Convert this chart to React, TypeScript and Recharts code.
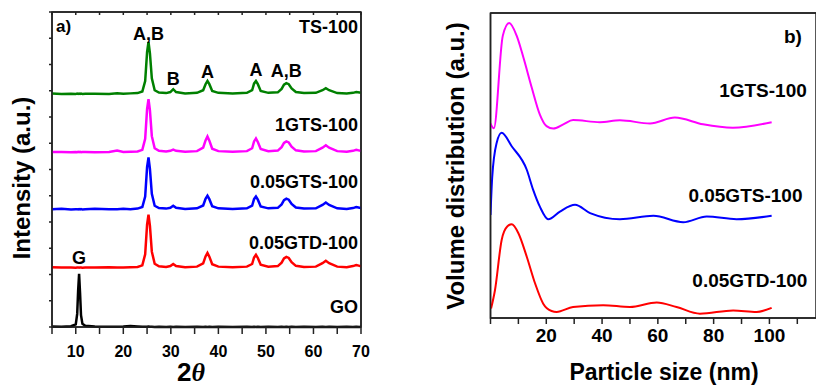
import React from 'react';
import { LineChart, Line, XAxis, YAxis, ReferenceDot, ReferenceArea } from 'recharts';

const FONT = '"Liberation Sans", Arial, sans-serif';

// ---- panel a) XRD patterns ----
const twoTheta = [
  5, 7, 9, 10, 10.3, 10.5, 10.7, 10.9, 11.1, 11.4, 12, 14, 17, 18.7, 20, 21.5, 23, 24,
  24.6, 25, 25.3, 25.6, 26, 26.6, 27.5, 29, 29.9, 30.5, 31.1, 33, 35.5, 36.8, 37.3, 37.7,
  38.1, 38.7, 40, 43, 46, 47.1, 47.5, 47.9, 48.3, 48.9, 50.5, 52.5, 53.3, 53.8, 54.3, 54.8,
  55.4, 56.3, 58, 60.5, 61.9, 62.6, 63.3, 65, 67, 68.3, 69, 69.7, 70,
];

const goXrd = [
  0.02, 0.01, 0.03, 0.1, 0.5, 1.4, 2.03, 1.3, 0.45, 0.12, 0.05, 0.02, 0.01, 0.01, 0.02, 0.04, 0.02, 0.01,
  0.01, 0.01, 0.02, 0.01, 0.01, 0.0, 0.01, 0.0, 0.01, 0.0, 0.01, 0.0, 0.01, 0.0, 0.01, 0.0,
  0.01, 0.0, 0.01, 0.0, 0.01, 0.0, 0.01, 0.0, 0.01, 0.0, 0.01, 0.0, 0.01, 0.0, 0.01, 0.0,
  0.01, 0.0, 0.01, 0.0, 0.01, 0.0, 0.01, 0.0, 0.01, 0.0, 0.01, 0.0, 0.01,
];

const gtd005 = [
  0.03, 0.02, 0.02, 0.01, 0.02, 0.02, 0.01, 0.02, 0.02, 0.01, 0.02, 0.02, 0.03, 0.02, 0.02, 0.03, 0.04, 0.1,
  0.52, 1.65, 2.03, 1.6, 0.62, 0.16, 0.06, 0.04, 0.07, 0.15, 0.07, 0.03, 0.05, 0.17, 0.44, 0.57,
  0.43, 0.14, 0.05, 0.03, 0.05, 0.15, 0.4, 0.5, 0.38, 0.12, 0.05, 0.07, 0.2, 0.36, 0.42, 0.38,
  0.22, 0.08, 0.04, 0.05, 0.18, 0.27, 0.18, 0.05, 0.03, 0.07, 0.11, 0.08, 0.06,
];

const gts005 = [
  0.02, 0.03, 0.01, 0.02, 0.02, 0.01, 0.02, 0.01, 0.02, 0.01, 0.02, 0.03, 0.02, 0.02, 0.03, 0.02, 0.04, 0.1,
  0.5, 1.62, 1.99, 1.55, 0.6, 0.15, 0.06, 0.04, 0.07, 0.15, 0.07, 0.03, 0.05, 0.16, 0.41, 0.53,
  0.4, 0.13, 0.05, 0.03, 0.05, 0.15, 0.4, 0.5, 0.38, 0.12, 0.05, 0.07, 0.2, 0.36, 0.42, 0.38,
  0.22, 0.08, 0.04, 0.05, 0.18, 0.27, 0.18, 0.05, 0.03, 0.06, 0.1, 0.07, 0.06,
];

const gts1 = [
  0.02, 0.02, 0.01, 0.02, 0.01, 0.02, 0.01, 0.02, 0.01, 0.02, 0.02, 0.01, 0.02, 0.07, 0.02, 0.03, 0.04, 0.1,
  0.52, 1.65, 2.03, 1.6, 0.62, 0.16, 0.06, 0.04, 0.06, 0.11, 0.06, 0.03, 0.05, 0.18, 0.46, 0.61,
  0.45, 0.14, 0.05, 0.03, 0.05, 0.16, 0.42, 0.53, 0.4, 0.13, 0.05, 0.07, 0.2, 0.36, 0.42, 0.38,
  0.22, 0.08, 0.04, 0.05, 0.18, 0.27, 0.18, 0.05, 0.03, 0.06, 0.1, 0.07, 0.06,
];

const ts100 = [
  0.03, 0.01, 0.02, 0.01, 0.02, 0.01, 0.02, 0.01, 0.02, 0.01, 0.02, 0.02, 0.01, 0.03, 0.02, 0.03, 0.04, 0.1,
  0.5, 1.6, 1.99, 1.55, 0.6, 0.15, 0.06, 0.04, 0.08, 0.19, 0.08, 0.03, 0.05, 0.15, 0.38, 0.5,
  0.38, 0.12, 0.05, 0.03, 0.05, 0.15, 0.4, 0.5, 0.38, 0.12, 0.05, 0.07, 0.2, 0.36, 0.42, 0.38,
  0.22, 0.08, 0.04, 0.05, 0.15, 0.23, 0.15, 0.04, 0.03, 0.05, 0.08, 0.06, 0.05,
];

// vertical stacking offsets for the patterns
const offGO = 0;
const offGTD = 2.25;
const offGTS005 = 4.47;
const offGTS1 = 6.65;
const offTS = 8.87;

const xrdTicks = [5, 10, 15, 20, 25, 30, 35, 40, 45, 50, 55, 60, 65, 70];
const xrdYTicks = [0, 1, 2, 3, 4, 5, 6, 7, 8, 9, 10, 11, 12];

const peakLabels = [
  { text: 'A,B', x: 25.3, y: 11.16 },
  { text: 'B', x: 30.5, y: 9.48 },
  { text: 'A', x: 37.7, y: 9.74 },
  { text: 'A', x: 47.9, y: 9.82 },
  { text: 'A,B', x: 54.3, y: 9.78 },
  { text: 'G', x: 10.7, y: 2.64 },
];

const sampleLabelsA = [
  { text: 'TS-100', y: 11.46 },
  { text: '1GTS-100', y: 7.72 },
  { text: '0.05GTS-100', y: 5.54 },
  { text: '0.05GTD-100', y: 3.21 },
  { text: 'GO', y: 0.76 },
];

// ---- panel b) particle size distributions ----
const size1GTS = [0, 1.2, 4.4, 6.7, 9.4, 11.8, 14.8, 17.7, 20.1, 22.5, 26.1, 29.6, 39.2, 46.4, 57.2, 66.1, 76.2, 86.9, 100.8];
const vol1GTS = [6.38, 6.22, 9.25, 9.67, 9.25, 8.54, 7.55, 6.67, 6.29, 6.21, 6.35, 6.49, 6.42, 6.48, 6.38, 6.57, 6.35, 6.24, 6.42];

const size005GTS = [0, 0.6, 2.2, 4.0, 7.6, 13.0, 15.3, 17.7, 20.7, 24.9, 30.3, 35.7, 46.4, 58.4, 69.1, 77.5, 88.2, 100.8];
const vol005GTS = [3.38, 4.6, 5.74, 6.07, 5.63, 4.86, 4.2, 3.65, 3.24, 3.49, 3.71, 3.44, 3.24, 3.35, 3.14, 3.33, 3.24, 3.35];

const size005GTD = [0.2, 1.6, 4.0, 6.0, 7.6, 10.0, 13.0, 16.0, 18.9, 21.9, 23.7, 29.6, 40.4, 50.0, 59.6, 66.7, 75.1, 87.0, 95.4, 100.8];
const vol005GTD = [0.31, 0.91, 2.56, 3.0, 3.07, 2.78, 2.01, 1.13, 0.47, 0.23, 0.2, 0.36, 0.42, 0.36, 0.51, 0.36, 0.14, 0.25, 0.2, 0.33];

const sizeTicks = [0, 10, 20, 30, 40, 50, 60, 70, 80, 90, 100, 110];

const sampleLabelsB = [
  { text: 'b)', x: 108.4, y: 9.24 },
  { text: '1GTS-100', x: 97.7, y: 7.46 },
  { text: '0.05GTS-100', x: 91.4, y: 4.04 },
  { text: '0.05GTD-100', x: 93.0, y: 1.24 },
];

const xrdData = twoTheta.map((t, i) => ({
  t,
  go: goXrd[i] + offGO,
  gtd: gtd005[i] + offGTD,
  gts005: gts005[i] + offGTS005,
  gts1: gts1[i] + offGTS1,
  ts: ts100[i] + offTS,
}));

const toRows = (xs: number[], ys: number[]) => xs.map((s, i) => ({ s, v: ys[i] }));

const labelStyle = { fill: '#000', fontWeight: 'bold', fontFamily: FONT };

const blank = () => '';

const FRAME = '#222';

export default function App() {
  const axisProps = { stroke: FRAME, strokeWidth: 1.5, interval: 0 as const };

  return (
    <div style={{ position: 'absolute', left: 0, top: 0, width: 816, height: 386, background: '#fff', overflow: 'hidden' }}>
      <div style={{ position: 'absolute', left: 0, top: 0 }}>
        <LineChart width={380} height={386} data={xrdData} margin={{ top: 12, right: 18, bottom: 29, left: 51 }}>
          <XAxis
            dataKey="t"
            type="number"
            domain={[5, 70]}
            ticks={xrdTicks}
            allowDataOverflow
            height={30}
            tickSize={7}
            tickMargin={12}
            tickFormatter={(v: number) => (v % 10 === 0 ? String(v) : '')}
            tick={{ fill: '#000', fontSize: 16, fontWeight: 'bold', fontFamily: FONT }}
            {...axisProps}
          />
          <XAxis
            xAxisId="top"
            orientation="top"
            dataKey="t"
            type="number"
            domain={[5, 70]}
            ticks={xrdTicks}
            allowDataOverflow
            height={1}
            mirror
            tickSize={3}
            tickFormatter={blank}
            {...axisProps}
          />
          <YAxis type="number" domain={[0, 12]} ticks={xrdYTicks} width={1} tickSize={3} tickFormatter={blank} {...axisProps} />
          <YAxis
            yAxisId="right"
            orientation="right"
            type="number"
            domain={[0, 12]}
            ticks={xrdYTicks}
            width={1}
            tickSize={3}
            tickFormatter={blank}
            {...axisProps}
          />
          <ReferenceArea x1={5} x2={70} y1={0} y2={12} fill="none" fillOpacity={0} stroke={FRAME} strokeWidth={1.5} strokeOpacity={1} ifOverflow="visible" />
          <Line type="linear" dataKey="go" stroke="#000000" strokeWidth={2.5} dot={false} isAnimationActive={false} />
          <Line type="linear" dataKey="gtd" stroke="#ff0000" strokeWidth={2.5} dot={false} isAnimationActive={false} />
          <Line type="linear" dataKey="gts005" stroke="#0000ff" strokeWidth={2.5} dot={false} isAnimationActive={false} />
          <Line type="linear" dataKey="gts1" stroke="#ff00ff" strokeWidth={2.5} dot={false} isAnimationActive={false} />
          <Line type="linear" dataKey="ts" stroke="#008000" strokeWidth={2.5} dot={false} isAnimationActive={false} />
          <ReferenceDot x={5} y={11.46} r={0} fill="none" stroke="none" label={{ value: 'a)', position: 'right', offset: 4, fontSize: 17, ...labelStyle }} />
          {peakLabels.map((p, i) => (
            <ReferenceDot key={`pk-${i}`} x={p.x} y={p.y} r={0} fill="none" stroke="none" label={{ value: p.text, position: 'center', fontSize: 18, ...labelStyle }} />
          ))}
          {sampleLabelsA.map((p, i) => (
            <ReferenceDot key={`sa-${i}`} x={70} y={p.y} r={0} fill="none" stroke="none" label={{ value: p.text, position: 'left', offset: 3, fontSize: 18, ...labelStyle }} />
          ))}
        </LineChart>
      </div>

      <div style={{ position: 'absolute', left: 420, top: 0 }}>
        <LineChart width={396} height={386} margin={{ top: 13, right: 0, bottom: 38, left: 69.5 }}>
          <XAxis
            dataKey="s"
            type="number"
            domain={[0, 116.7]}
            ticks={sizeTicks}
            allowDataOverflow
            height={30}
            tickSize={6}
            tickMargin={5}
            tickFormatter={(v: number) => (v >= 20 && v <= 100 && v % 20 === 0 ? String(v) : '')}
            tick={{ fill: '#000', fontSize: 19, fontWeight: 'bold', fontFamily: FONT }}
            {...axisProps}
          />
          <XAxis
            xAxisId="top"
            orientation="top"
            dataKey="s"
            type="number"
            domain={[0, 116.7]}
            height={1}
            mirror
            tickFormatter={blank}
            tickLine={false}
            {...axisProps}
          />
          <YAxis type="number" domain={[0, 10]} width={1} tickFormatter={blank} tickLine={false} {...axisProps} />
          <ReferenceArea x1={0} x2={116.7} y1={0} y2={10} fill="none" fillOpacity={0} stroke={FRAME} strokeWidth={1.5} strokeOpacity={1} ifOverflow="visible" />
          <Line data={toRows(size1GTS, vol1GTS)} type="monotone" dataKey="v" stroke="#ff00ff" strokeWidth={2} dot={false} isAnimationActive={false} />
          <Line data={toRows(size005GTS, vol005GTS)} type="monotone" dataKey="v" stroke="#0000ff" strokeWidth={2} dot={false} isAnimationActive={false} />
          <Line data={toRows(size005GTD, vol005GTD)} type="monotone" dataKey="v" stroke="#ff0000" strokeWidth={2} dot={false} isAnimationActive={false} />
          {sampleLabelsB.map((p, i) => (
            <ReferenceDot key={`sb-${i}`} x={p.x} y={p.y} r={0} fill="none" stroke="none" label={{ value: p.text, position: 'center', fontSize: 19, ...labelStyle }} />
          ))}
        </LineChart>
      </div>

      <svg width={816} height={386} style={{ position: 'absolute', left: 0, top: 0, pointerEvents: 'none' }}>
        <text x={21} y={178} transform="rotate(-90 21 178)" textAnchor="middle" dominantBaseline="central" fontFamily={FONT} fontWeight="bold" fontSize={24} fill="#000">
          Intensity (a.u.)
        </text>
        <text x={191} y={372} textAnchor="middle" dominantBaseline="central" fontFamily={FONT} fontWeight="bold" fontSize={26} fill="#000">
          2<tspan fontFamily='"Liberation Serif", serif' fontStyle="italic">θ</tspan>
        </text>
        <text x={455} y={166} transform="rotate(-90 455 166)" textAnchor="middle" dominantBaseline="central" fontFamily={FONT} fontWeight="bold" fontSize={24} fill="#000">
          Volume distribution (a.u.)
        </text>
        <text x={664} y={372} textAnchor="middle" dominantBaseline="central" fontFamily={FONT} fontWeight="bold" fontSize={23} fill="#000">
          Particle size (nm)
        </text>
      </svg>
    </div>
  );
}
